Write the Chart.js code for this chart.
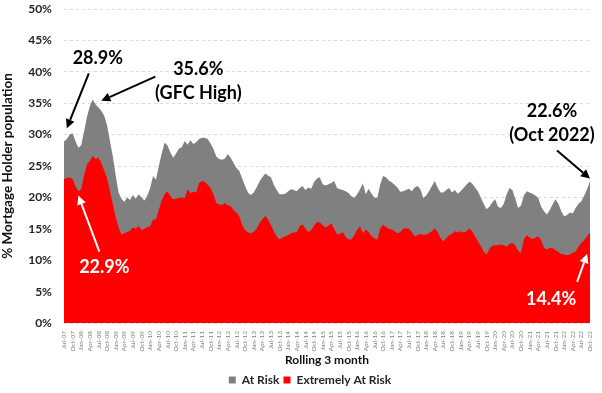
<!DOCTYPE html>
<html>
<head>
<meta charset="utf-8">
<script src="https://cdn.jsdelivr.net/npm/chart.js@4.4.0/dist/chart.umd.min.js"></script>
<style>
  html, body { margin: 0; padding: 0; background: #fff; }
  #wrap { width: 602px; height: 393px; position: relative; }
</style>
</head>
<body>
<div id="wrap"><canvas id="c" width="602" height="393"></canvas></div>
<script>
// Categories: monthly, Jul-07 .. Oct-22
const monthNames = ['Jan','Feb','Mar','Apr','May','Jun','Jul','Aug','Sep','Oct','Nov','Dec'];
const startYear = 2007, startMonth = 6, endYear = 2022, endMonth = 9;
const categories = [];
for (let y = startYear; y <= endYear; y++) {
  for (let m = 0; m < 12; m++) {
    if (y === startYear && m < startMonth) continue;
    if (y === endYear && m > endMonth) break;
    categories.push(monthNames[m] + '-' + String(y).slice(2));
  }
}

// % of mortgage holders "At Risk" (total, grey)
const atRisk = [
  28.9,29.3,30.0,30.2,29.0,27.9,28.3,30.5,32.8,34.5,35.6,34.8,
  34.3,33.8,33.0,31.5,29.0,26.5,23.5,20.8,19.8,19.3,20.0,19.6,
  20.4,19.8,20.5,20.0,19.5,20.3,21.5,23.4,22.8,25.0,27.0,28.7,
  28.3,27.2,26.3,27.0,27.8,28.0,29.0,28.4,29.1,28.5,28.8,29.3,
  29.5,29.5,29.3,28.6,27.7,26.5,26.1,26.0,26.2,26.9,26.3,25.5,
  24.7,24.2,23.0,21.8,20.8,20.4,20.8,21.6,22.5,23.2,23.8,23.5,
  23.2,22.0,21.2,20.5,20.5,20.6,21.0,21.3,21.2,21.0,21.5,21.8,
  21.2,21.6,21.4,22.4,23.0,23.2,22.1,21.9,22.1,22.3,22.6,21.5,
  21.3,21.2,21.0,20.7,20.2,19.9,20.5,21.3,22.2,20.5,21.4,20.6,
  20.0,19.9,22.0,23.4,23.2,22.7,22.4,22.0,21.6,20.9,21.0,21.2,
  21.4,21.0,21.6,21.8,21.3,19.9,20.3,21.0,21.8,22.6,21.6,20.8,
  20.8,21.2,21.5,20.8,21.2,20.6,21.0,21.5,22.0,22.5,22.2,21.6,
  21.0,20.0,19.0,18.1,18.5,19.2,19.7,18.5,18.3,19.0,20.5,21.5,
  21.2,19.8,18.3,18.7,20.3,21.0,20.8,20.6,20.3,19.9,18.5,17.8,
  17.3,18.0,18.9,19.7,19.0,17.8,17.0,17.2,17.6,17.5,18.3,19.0,
  19.4,20.3,21.3,22.6
];

// % of mortgage holders "Extremely At Risk" (red)
const extremelyAtRisk = [
  22.9,23.1,23.2,22.9,21.8,21.0,21.3,23.5,25.3,25.8,26.6,26.1,
  26.3,25.5,24.3,23.0,21.0,18.9,16.8,15.2,14.1,14.3,14.5,14.7,
  15.2,15.0,15.5,14.8,15.0,15.3,15.4,16.5,16.5,18.0,19.5,20.5,
  21.0,20.2,19.7,19.8,19.9,20.0,19.9,21.3,20.7,20.9,20.8,22.3,
  22.6,22.5,22.0,21.5,20.5,19.1,18.9,18.8,19.1,18.8,18.6,18.0,
  17.6,17.0,15.6,14.8,14.4,14.3,14.5,15.0,15.9,16.5,17.1,16.5,
  15.6,14.6,13.8,13.3,13.6,13.8,14.0,14.3,14.4,14.5,15.4,15.7,
  15.0,14.5,14.8,15.5,16.1,16.0,15.6,15.2,15.5,15.9,15.0,14.1,
  14.2,14.5,13.7,13.3,13.3,14.0,14.8,15.4,14.3,14.9,14.5,13.8,
  13.5,13.3,15.0,15.7,15.3,15.0,14.9,14.6,14.3,14.5,15.0,15.1,
  15.0,14.5,13.8,14.0,14.2,14.0,14.1,14.3,14.6,15.1,14.5,13.6,
  13.0,13.5,14.0,14.2,14.6,14.4,14.6,14.4,14.6,15.1,14.6,13.8,
  13.0,12.3,11.4,10.9,11.8,12.3,12.4,12.4,12.5,12.4,12.2,12.6,
  12.8,12.4,11.5,11.2,13.3,14.0,13.6,13.4,13.6,13.8,13.2,12.0,
  11.7,12.0,11.9,11.6,11.3,11.0,10.9,10.8,10.9,11.2,11.4,12.2,
  12.8,13.2,13.8,14.4
];

const yTicks = [0,5,10,15,20,25,30,35,40,45,50];
const seriesNames = ['At Risk', 'Extremely At Risk'];

// Callouts: anchored to a data point (index, value); offsets in px
const callouts = [
  { idx: 1,   val: 31.0, lines: ['28.9%'], color: '#000', tail: [22, -55], text: [31, -70], lh: 24 },
  { idx: 13,  val: 35.4, lines: ['35.6%', '(GFC High)'], color: '#000', tail: [54, -24], text: [97, -32], lh: 24 },
  { idx: 183, val: 23.0, lines: ['22.6%', '(Oct 2022)'], color: '#000', tail: [-33, -28], text: [-38, -67], lh: 24 },
  { idx: 5,   val: 20.3, lines: ['22.9%'], color: '#fff', tail: [21, 56], text: [26, 72], lh: 24 },
  { idx: 182, val: 11.0, lines: ['14.4%'], color: '#fff', tail: [-10, 28], text: [-36, 45], lh: 24 }
];

const FONT = 'Lato, "Open Sans", "Liberation Sans", sans-serif';

const calloutPlugin = {
  id: 'callouts',
  afterLayout(chart) {
    // legend sits slightly right of centre in the reference
    if (chart.legend) { chart.legend.left += 15; chart.legend.right += 15; }
  },
  afterDraw(chart) {
    const ctx = chart.ctx;
    const xs = chart.scales.x, ys = chart.scales.y;
    ctx.save();
    callouts.forEach(c => {
      const tx = xs.getPixelForValue(c.idx), ty = ys.getPixelForValue(c.val);
      const sx = tx + c.tail[0], sy = ty + c.tail[1];
      const ang = Math.atan2(ty - sy, tx - sx);
      const head = 9, hw = 4.5;
      const bx = tx - head * Math.cos(ang), by = ty - head * Math.sin(ang);
      ctx.strokeStyle = c.color;
      ctx.fillStyle = c.color;
      ctx.lineWidth = 2;
      ctx.beginPath();
      ctx.moveTo(sx, sy);
      ctx.lineTo(bx, by);
      ctx.stroke();
      ctx.beginPath();
      ctx.moveTo(tx, ty);
      ctx.lineTo(bx + hw * Math.sin(ang), by - hw * Math.cos(ang));
      ctx.lineTo(bx - hw * Math.sin(ang), by + hw * Math.cos(ang));
      ctx.closePath();
      ctx.fill();
      ctx.font = 'bold 18px ' + FONT;
      ctx.textAlign = 'center';
      ctx.textBaseline = 'middle';
      c.lines.forEach((t, k) => {
        ctx.fillText(t, tx + c.text[0], ty + c.text[1] + k * c.lh);
      });
    });
    ctx.restore();
  }
};

new Chart(document.getElementById('c'), {
  type: 'line',
  data: {
    labels: categories,
    datasets: [
      {
        label: seriesNames[0],
        data: atRisk,
        backgroundColor: '#808080',
        borderColor: '#808080',
        borderWidth: 0,
        fill: 'origin',
        pointRadius: 0,
        order: 2
      },
      {
        label: seriesNames[1],
        data: extremelyAtRisk,
        backgroundColor: '#ff0000',
        borderColor: '#ff0000',
        borderWidth: 0,
        fill: 'origin',
        pointRadius: 0,
        order: 1
      }
    ]
  },
  options: {
    responsive: false,
    animation: false,
    devicePixelRatio: 1,
    layout: { padding: { top: 9, right: 12, left: 0, bottom: -3 } },
    plugins: {
      tooltip: { enabled: false },
      legend: {
        position: 'bottom',
        labels: {
          sort: (a, b) => a.datasetIndex - b.datasetIndex,
          usePointStyle: true,
          pointStyle: 'rect',
          boxWidth: 7,
          boxHeight: 7,
          padding: 4,
          color: '#262626',
          font: { family: FONT, size: 12, weight: 'bold' }
        }
      }
    },
    scales: {
      x: {
        grid: { display: false },
        border: { display: false },
        afterFit: (s) => { s.paddingTop = 0; s.paddingBottom = 0; },
        ticks: {
          autoSkip: false,
          maxRotation: 90,
          minRotation: 90,
          padding: 0,
          color: '#808080',
          font: { family: FONT, size: 6.5 },
          callback: function (v, i) { return i % 3 === 0 ? categories[i] : null; }
        },
        title: {
          display: true,
          text: 'Rolling 3 month',
          color: '#111',
          font: { family: FONT, size: 12, weight: 'bold' },
          padding: { top: 1, bottom: 3 }
        }
      },
      y: {
        min: 0,
        max: 50,
        afterBuildTicks: (s) => { s.ticks = yTicks.map(v => ({ value: v })); },
        afterFit: (s) => { s.paddingTop = 0; s.paddingBottom = 0; },
        grid: { color: '#d9d9d9', drawTicks: false, lineWidth: 1 },
        border: { display: false, dash: [3, 3] },
        ticks: {
          padding: 12,
          color: '#262626',
          font: { family: FONT, size: 12, weight: 'bold' },
          callback: (v) => v + '%'
        },
        title: {
          display: true,
          text: '% Mortgage Holder population',
          color: '#111',
          font: { family: FONT, size: 13.5, weight: 'bold' },
          padding: { top: 0, bottom: 0 }
        }
      }
    }
  },
  plugins: [calloutPlugin]
});
</script>
</body>
</html>
